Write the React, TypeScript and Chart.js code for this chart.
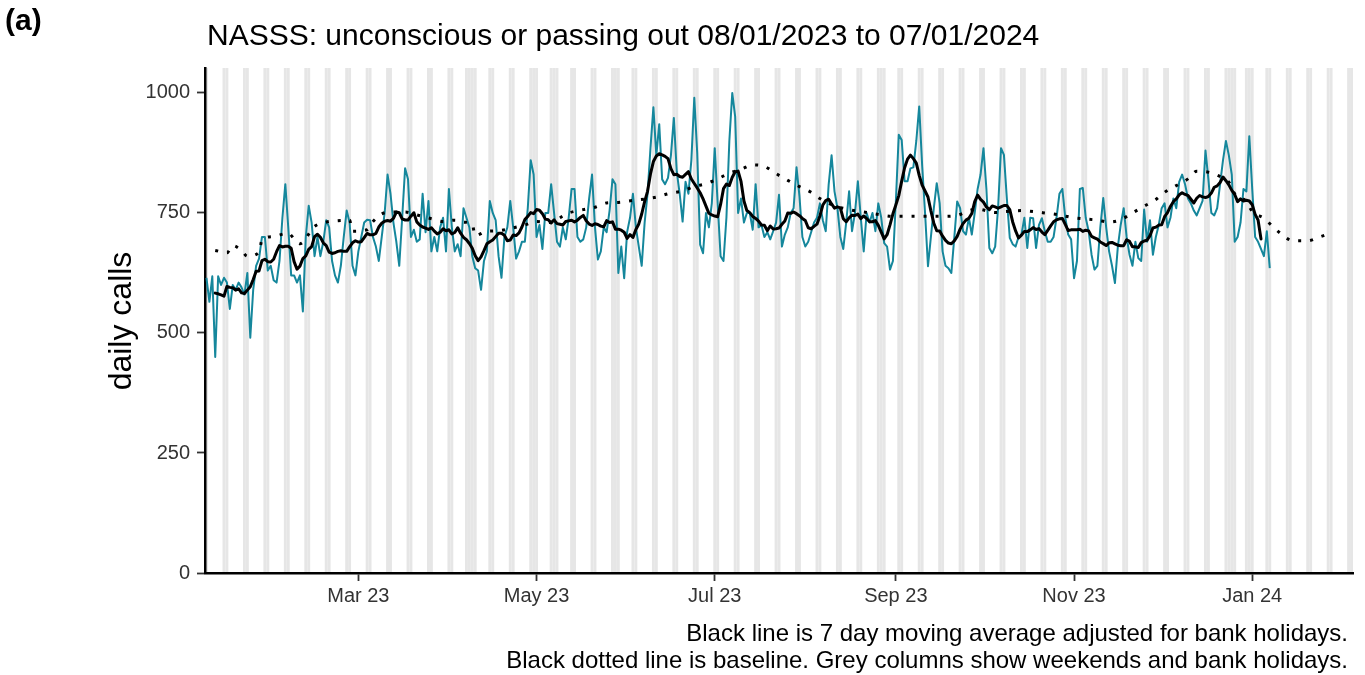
import { useEffect, useRef } from "react";
import { Chart, registerables } from "chart.js";

Chart.register(...registerables);

// Day index 0 = Sunday 08/01/2023
const START_YEAR = 2023;
const START_MONTH = 0;
const START_DAY = 8;

// Daily calls, by calendar month
const CALLS_JAN23 = [615, 565, 618, 450, 618, 600, 615, 605, 550, 600, 590, 605, 595, 580, 625, 490, 590, 640, 655, 700, 700, 630, 640, 610];
const CALLS_FEB23 = [605, 650, 740, 810, 720, 620, 620, 605, 620, 545, 700, 765, 730, 660, 700, 660, 690, 735, 720, 650, 620, 605, 640, 700, 755, 730, 640, 620];
const CALLS_MAR23 = [670, 700, 730, 736, 735, 700, 680, 650, 700, 750, 830, 790, 730, 690, 640, 740, 843, 820, 700, 715, 690, 695, 790, 710, 775, 670, 700, 670, 720, 740, 670];
const CALLS_APR23 = [800, 720, 670, 685, 660, 760, 740, 720, 660, 635, 630, 590, 650, 670, 775, 750, 735, 660, 615, 700, 720, 775, 720, 655, 670, 690, 690, 760, 860, 830];
const CALLS_MAY23 = [700, 725, 675, 750, 750, 810, 750, 690, 680, 720, 695, 740, 800, 800, 700, 690, 695, 720, 780, 830, 720, 653, 670, 720, 710, 755, 820, 810, 625, 680, 614];
const CALLS_JUN23 = [710, 740, 790, 720, 680, 640, 730, 790, 885, 970, 870, 935, 820, 810, 823, 870, 948, 836, 790, 732, 815, 790, 860, 990, 875, 684, 666, 750, 720, 770];
const CALLS_JUL23 = [885, 770, 660, 650, 740, 900, 1000, 950, 750, 780, 730, 750, 750, 715, 810, 720, 725, 700, 710, 695, 712, 730, 788, 680, 705, 720, 750, 760, 845, 785, 700];
const CALLS_AUG23 = [680, 690, 710, 730, 740, 770, 735, 712, 809, 870, 795, 760, 700, 675, 730, 795, 712, 750, 816, 740, 670, 750, 730, 750, 712, 770, 740, 687, 680, 632, 650];
const CALLS_SEP23 = [774, 913, 902, 816, 816, 843, 845, 900, 972, 850, 750, 639, 700, 760, 812, 770, 670, 640, 635, 625, 698, 774, 760, 712, 705, 740, 705, 750, 800, 830];
const CALLS_OCT23 = [885, 800, 677, 666, 680, 760, 885, 871, 780, 698, 685, 680, 700, 705, 740, 677, 740, 739, 677, 725, 739, 712, 690, 690, 700, 740, 790, 800, 740, 705, 695];
const CALLS_NOV23 = [614, 650, 800, 802, 740, 712, 663, 632, 640, 720, 781, 720, 670, 640, 604, 680, 726, 760, 700, 663, 640, 690, 656, 650, 757, 690, 735, 663, 700, 725];
const CALLS_DEC23 = [760, 770, 720, 740, 780, 760, 815, 830, 810, 780, 770, 755, 745, 760, 775, 880, 820, 750, 745, 760, 810, 860, 900, 870, 830, 690, 700, 730, 800, 795, 910];
const CALLS_JAN24 = [800, 700, 690, 675, 660, 712, 635];

// Baseline (dotted), read at sample days
const BASELINE_DAYS = [3, 7, 9, 12, 14, 18, 19, 23, 28, 30, 32, 37, 41, 45, 49, 50, 55, 57, 60, 64, 68, 72, 77, 81, 85, 88, 91, 92, 96, 100, 105, 109, 113, 117, 124, 129, 133, 137, 141, 146, 150, 154, 158, 163, 167, 171, 175, 179, 183, 187, 191, 195, 199, 203, 207, 210, 215, 220, 227, 231, 235, 239, 244, 252, 257, 261, 264, 270, 274, 279, 283, 287, 292, 296, 300, 305, 309, 313, 317, 321, 325, 328, 332, 336, 339, 343, 347, 350, 352, 356, 358, 362, 365, 368, 372, 377, 381, 385];
const BASELINE_VALUES = [672, 667, 682, 672, 660, 668, 694, 701, 708, 696, 686, 722, 731, 734, 735, 712, 715, 732, 748, 752, 752, 746, 738, 732, 735, 731, 726, 703, 712, 713, 719, 725, 732, 730, 750, 757, 762, 771, 772, 776, 779, 783, 790, 796, 805, 811, 821, 833, 841, 850, 847, 832, 818, 805, 793, 780, 765, 757, 750, 746, 743, 743, 743, 743, 745, 755, 758, 751, 753, 755, 753, 750, 746, 741, 738, 735, 731, 736, 750, 764, 778, 793, 807, 821, 837, 835, 826, 814, 790, 774, 753, 739, 722, 706, 692, 692, 700, 708];

const BANK_HOLIDAYS = ["2023-04-07", "2023-04-10", "2023-05-01", "2023-05-08", "2023-05-29", "2023-08-28", "2023-12-25", "2023-12-26", "2024-01-01"];

const X_TICK_DAYS = [52, 113, 174, 236, 297, 358];
const X_TICK_LABELS = ["Mar 23", "May 23", "Jul 23", "Sep 23", "Nov 23", "Jan 24"];
const Y_TICKS = [0, 250, 500, 750, 1000];

const X_MIN = -0.5;
const X_MAX = 392.5;
const Y_MAX = 1052;

const TITLE = "NASSS: unconscious or passing out 08/01/2023 to 07/01/2024";
const CAPTION_1 = "Black line is 7 day moving average adjusted for bank holidays.";
const CAPTION_2 = "Black dotted line is baseline. Grey columns show weekends and bank holidays.";
const Y_TITLE = "daily calls";
const PANEL = "(a)";

const FONT = '"Liberation Sans", Arial, Helvetica, sans-serif';
const TEAL = "#15879c";
const GREY_COL = "#e6e6e6";

const CALLS = [
  ...CALLS_JAN23, ...CALLS_FEB23, ...CALLS_MAR23, ...CALLS_APR23, ...CALLS_MAY23, ...CALLS_JUN23,
  ...CALLS_JUL23, ...CALLS_AUG23, ...CALLS_SEP23, ...CALLS_OCT23, ...CALLS_NOV23, ...CALLS_DEC23, ...CALLS_JAN24,
];

function dayDate(d: number) {
  return new Date(START_YEAR, START_MONTH, START_DAY + d);
}
function isoOf(dt: Date) {
  const m = String(dt.getMonth() + 1).padStart(2, "0");
  const dd = String(dt.getDate()).padStart(2, "0");
  return `${dt.getFullYear()}-${m}-${dd}`;
}

const SHADED_DAYS: number[] = [];
for (let d = -1; d <= Math.ceil(X_MAX) + 1; d++) {
  const dt = dayDate(d);
  const dow = dt.getDay();
  if (dow === 0 || dow === 6 || BANK_HOLIDAYS.includes(isoOf(dt))) SHADED_DAYS.push(d);
}

const dailyPoints = CALLS.map((v, i) => ({ x: i, y: v }));
const maPoints: { x: number; y: number }[] = [];
for (let i = 3; i < CALLS.length - 3; i++) {
  let s = 0;
  for (let k = -3; k <= 3; k++) s += CALLS[i + k];
  maPoints.push({ x: i, y: s / 7 });
}
const baselinePoints = BASELINE_DAYS.map((d, i) => ({ x: d, y: BASELINE_VALUES[i] }));

const shadePlugin = {
  id: "shadeCols",
  beforeDraw(chart: any) {
    const { ctx, chartArea, scales } = chart;
    const x = scales.x;
    ctx.save();
    ctx.beginPath();
    ctx.rect(chartArea.left, chartArea.top, chartArea.right - chartArea.left, chartArea.bottom - chartArea.top);
    ctx.clip();
    ctx.fillStyle = GREY_COL;
    for (const d of SHADED_DAYS) {
      const x0 = x.getPixelForValue(d - 0.5);
      const x1 = x.getPixelForValue(d + 0.5);
      ctx.fillRect(x0, chartArea.top, x1 - x0, chartArea.bottom - chartArea.top);
    }
    ctx.restore();
  },
};

export default function App() {
  const ref = useRef<HTMLCanvasElement>(null);
  useEffect(() => {
    const chart = new Chart(ref.current as HTMLCanvasElement, {
      type: "line",
      data: {
        datasets: [
          {
            label: "7 day moving average",
            data: maPoints,
            borderColor: "#000000",
            borderWidth: 3,
            pointRadius: 0,
            borderJoinStyle: "round",
            borderCapStyle: "round",
          },
          {
            label: "baseline",
            data: baselinePoints,
            borderColor: "#000000",
            borderWidth: 3,
            borderDash: [3, 9],
            pointRadius: 0,
            cubicInterpolationMode: "monotone",
          },
          {
            label: "daily calls",
            data: dailyPoints,
            borderColor: TEAL,
            borderWidth: 2,
            pointRadius: 0,
            borderJoinStyle: "round",
          },
        ],
      },
      options: {
        animation: false,
        responsive: false,
        devicePixelRatio: 1,
        parsing: false,
        layout: { padding: { left: 0, right: 12, top: 68, bottom: 0 } },
        plugins: {
          legend: { display: false },
          tooltip: { enabled: false },
          title: { display: false },
        },
        scales: {
          x: {
            type: "linear",
            min: X_MIN,
            max: X_MAX,
            afterBuildTicks: (s: any) => {
              s.ticks = X_TICK_DAYS.map((v) => ({ value: v }));
            },
            afterFit: (s: any) => {
              s.height = 102;
            },
            ticks: {
              autoSkip: false,
              maxRotation: 0,
              padding: 3,
              color: "#333333",
              font: { family: FONT, size: 20 },
              callback: (v: any) => {
                const i = X_TICK_DAYS.indexOf(Number(v));
                return i >= 0 ? X_TICK_LABELS[i] : "";
              },
            },
            grid: { display: true, drawOnChartArea: false, drawTicks: true, tickLength: 8, tickWidth: 1.8, tickColor: "#333333" },
            border: { display: true, color: "#000000", width: 2.5 },
          },
          y: {
            type: "linear",
            min: 0,
            max: Y_MAX,
            afterBuildTicks: (s: any) => {
              s.ticks = Y_TICKS.map((v) => ({ value: v }));
            },
            afterFit: (s: any) => {
              s.width = 205;
            },
            ticks: {
              padding: 7,
              color: "#333333",
              font: { family: FONT, size: 20 },
              callback: (v: any) => String(v),
            },
            grid: { display: true, drawOnChartArea: false, drawTicks: true, tickLength: 8, tickWidth: 1.8, tickColor: "#333333" },
            border: { display: true, color: "#000000", width: 2.5 },
          },
        },
      },
      plugins: [shadePlugin],
    } as any);
    return () => chart.destroy();
  }, []);

  const abs = { position: "absolute" as const, lineHeight: 1, whiteSpace: "nowrap" as const };
  return (
    <div style={{ position: "absolute", left: 0, top: 0, width: 1365, height: 675, background: "#ffffff", fontFamily: FONT, color: "#000" }}>
      <canvas ref={ref} width={1365} height={675} style={{ position: "absolute", left: 0, top: 0, width: 1365, height: 675 }} />
      <div style={{ ...abs, left: 5, top: 5, fontSize: 30, fontWeight: "bold" }}>{PANEL}</div>
      <div style={{ ...abs, left: 207, top: 20, fontSize: 30 }}>{TITLE}</div>
      <div style={{ ...abs, left: 120 - 150, top: 321 - 16, width: 300, fontSize: 32, textAlign: "center", transform: "rotate(-90deg)" }}>{Y_TITLE}</div>
      <div style={{ ...abs, left: 0, width: 1348, top: 621, fontSize: 24, textAlign: "right" }}>{CAPTION_1}</div>
      <div style={{ ...abs, left: 0, width: 1348, top: 648, fontSize: 24, textAlign: "right" }}>{CAPTION_2}</div>
    </div>
  );
}
